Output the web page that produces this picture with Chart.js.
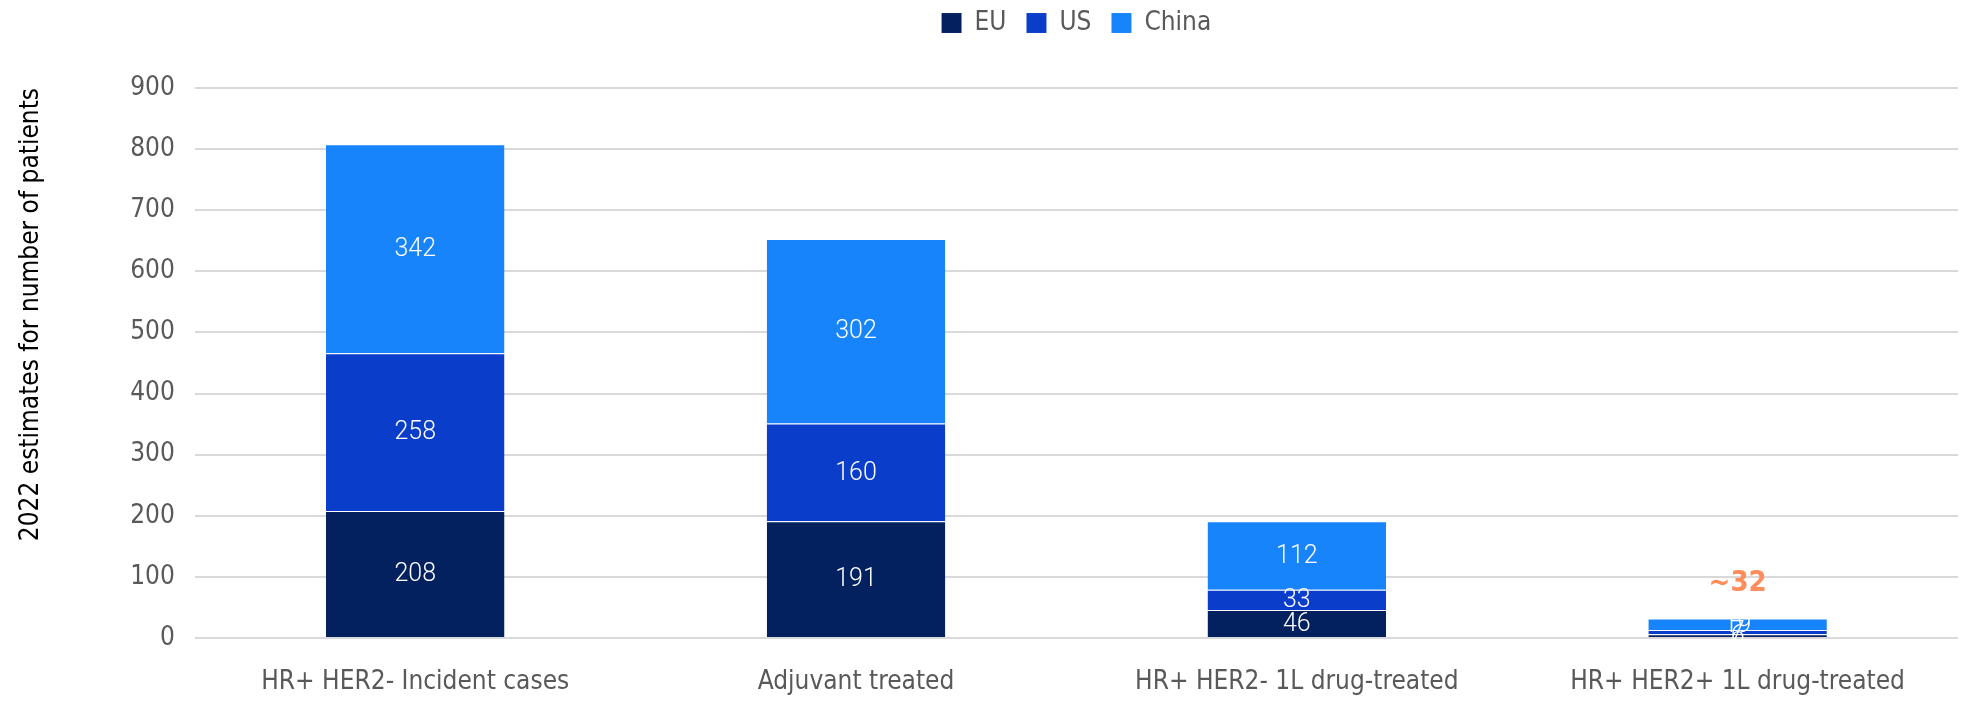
<!DOCTYPE html>
<html>
<head>
<meta charset="utf-8">
<script src="https://cdn.jsdelivr.net/npm/chart.js@4/dist/chart.umd.min.js"></script>
<style>
  html, body { margin: 0; padding: 0; background: #fff; }
  #wrap { width: 1962px; height: 701px; position: relative; }
</style>
</head>
<body>
<div id="wrap"><canvas id="chart"></canvas></div>
<script>
const categories = ['HR+ HER2- Incident cases', 'Adjuvant treated', 'HR+ HER2- 1L drug-treated', 'HR+ HER2+ 1L drug-treated'];
const euValues = [208, 191, 46, 6];
const usValues = [258, 160, 33, 7];
const chinaValues = [342, 302, 112, 19];
const totalNotes = [null, null, null, '~32'];
const yTicks = [0, 100, 200, 300, 400, 500, 600, 700, 800, 900];

const FONT = "'Liberation Sans Narrow', 'DejaVu Sans Condensed', sans-serif";

// draws the white numbers inside each segment and the orange note above the bar
const segmentLabels = {
    id: 'segmentLabels',
    afterDatasetsDraw(chart) {
        const ctx = chart.ctx;
        ctx.save();
        ctx.textAlign = 'center';
        ctx.textBaseline = 'middle';
        chart.data.datasets.forEach((ds, i) => {
            const meta = chart.getDatasetMeta(i);
            meta.data.forEach((bar, j) => {
                const y = (bar.y + bar.base) / 2;
                ctx.fillStyle = '#ffffff';
                ctx.font = '300 25px Roboto, ' + FONT;
                ctx.fillText(String(ds.data[j]), bar.x, y + 1);
            });
        });
        const yScale = chart.scales.y;
        const xScale = chart.scales.x;
        totalNotes.forEach((note, j) => {
            if (!note) return;
            const total = euValues[j] + usValues[j] + chinaValues[j];
            ctx.fillStyle = '#FF8C5A';
            ctx.font = 'bold 29px ' + FONT;
            ctx.fillText(note, xScale.getPixelForValue(j), yScale.getPixelForValue(total + 58));
        });
        ctx.restore();
    }
};

// extra room under the legend
const legendGap = {
    id: 'legendGap',
    beforeInit(chart) {
        const fit = chart.legend.fit;
        chart.legend.fit = function () {
            fit.bind(chart.legend)();
            this.height += 42;
        };
    }
};

new Chart(document.getElementById('chart'), {
    type: 'bar',
    data: {
        labels: categories,
        datasets: [
            { label: 'EU', data: euValues, backgroundColor: '#03215F' },
            { label: 'US', data: usValues, backgroundColor: '#0A3DCA' },
            { label: 'China', data: chinaValues, backgroundColor: '#1784FB' }
        ].map(d => Object.assign(d, {
            borderWidth: { top: 1, bottom: 0, left: 0, right: 0 },
            borderColor: 'rgba(255,255,255,0.25)',
            borderSkipped: false,
            barPercentage: 0.81,
            categoryPercentage: 0.5
        }))
    },
    options: {
        responsive: true,
        maintainAspectRatio: false,
        animation: false,
        layout: { padding: { top: -10, right: 4, left: 12, bottom: 2 } },
        plugins: {
            legend: {
                position: 'top',
                fullSize: false,
                labels: {
                    boxWidth: 20,
                    boxHeight: 20,
                    padding: 20,
                    color: '#595959',
                    font: { family: FONT, size: 26 }
                }
            },
            tooltip: { enabled: false }
        },
        scales: {
            x: {
                stacked: true,
                grid: { display: false },
                border: { display: false },
                afterFit(scale) { scale.height = 61; },
                ticks: {
                    color: '#595959',
                    padding: 21,
                    font: { family: FONT, size: 26 }
                }
            },
            y: {
                stacked: true,
                min: 0,
                max: 900,
                afterBuildTicks(axis) {
                    axis.ticks = yTicks.map(v => ({ value: v }));
                },
                grid: { color: '#D9D9D9', lineWidth: 2, drawTicks: false },
                border: { display: false },
                ticks: {
                    color: '#595959',
                    padding: 20,
                    font: { family: FONT, size: 26 }
                },
                title: {
                    display: true,
                    align: 'end',
                    text: '2022 estimates for number of patients',
                    color: '#000000',
                    padding: { bottom: 63 },
                    font: { family: FONT, size: 26 }
                }
            }
        }
    },
    plugins: [segmentLabels, legendGap]
});
</script>
</body>
</html>
